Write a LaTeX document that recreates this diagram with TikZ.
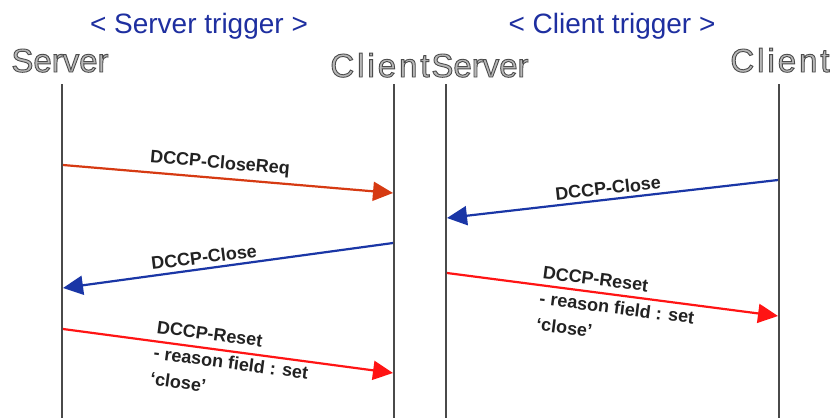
\documentclass[tikz,border=0pt]{standalone}
\usepackage{fontspec}
\setmainfont{Liberation Sans}
\usetikzlibrary{arrows.meta}

\definecolor{titleblue}{HTML}{1E2FA0}
\definecolor{reqorange}{HTML}{D63A12}
\definecolor{closeblue}{HTML}{1A36A6}
\definecolor{resetred}{HTML}{FF1414}
\definecolor{lifegray}{HTML}{4A4A4A}
\definecolor{hdrfill}{HTML}{B8B8B8}
\definecolor{msgtext}{HTML}{222222}

% outlined (stroked + filled) glyphs for the entity names
\newcommand\hollowtext[1]{\special{pdf:literal direct 2 Tr 0.9 w 0.3 G}#1\special{pdf:literal direct 0 Tr}}

\tikzset{
  title/.style={text=titleblue, font=\fontsize{28}{32}\selectfont, inner sep=0, anchor=base},
  entity/.style={text=hdrfill, font=\fontsize{33}{38}\selectfont, inner sep=0, anchor=base},
  lifeline/.style={draw=lifegray, line width=2.6pt},
  msgarrow/.style={line width=2.2pt, -{Triangle[length=20pt,width=19pt]}},
  msglabel/.style={text=msgtext, font=\bfseries\fontsize{18}{26}\selectfont, inner sep=0, align=left},
}

\begin{document}
\begin{tikzpicture}[x=1pt, y=-1pt]
  \useasboundingbox (0,0) rectangle (833,418);
  \fill[white] (0,0) rectangle (833,418);

  % section titles
  \node[title] (tServer) at (199,33) {< Server trigger >};
  \node[title] (tClient) at (612,33) {< Client trigger >};

  % entity names
  \node[entity] (nSL) at (60,72) {\hollowtext{Server}};
  \node[entity] (nCL) at (380,77) {\hollowtext{\addfontfeature{LetterSpace=9}Client}};
  \node[entity] (nSR) at (480,77) {\hollowtext{Server}};
  \node[entity] (nCR) at (780,72) {\hollowtext{\addfontfeature{LetterSpace=9}Client}};

  % lifelines
  \coordinate (SLtop) at (62,84);  \coordinate (SLbot) at (62,418);
  \coordinate (CLtop) at (394,84); \coordinate (CLbot) at (394,418);
  \coordinate (SRtop) at (446,84); \coordinate (SRbot) at (446,418);
  \coordinate (CRtop) at (779,84); \coordinate (CRbot) at (779,418);
  \draw[lifeline] (SLtop) -- (SLbot);
  \draw[lifeline] (CLtop) -- (CLbot);
  \draw[lifeline] (SRtop) -- (SRbot);
  \draw[lifeline] (CRtop) -- (CRbot);

  % message end points on the lifelines
  \coordinate (m1s) at (63,165);  \coordinate (m1e) at (393,193);
  \coordinate (m2s) at (393,243); \coordinate (m2e) at (63,288);
  \coordinate (m3s) at (63,329);  \coordinate (m3e) at (393,373);
  \coordinate (m4s) at (778,180); \coordinate (m4e) at (447,218);
  \coordinate (m5s) at (447,273); \coordinate (m5e) at (778,316);

  % server-triggered close
  \draw[msgarrow, draw=reqorange, fill=reqorange] (m1s) -- (m1e);
  \draw[msgarrow, draw=closeblue, fill=closeblue] (m2s) -- (m2e);
  \draw[msgarrow, draw=resetred, fill=resetred] (m3s) -- (m3e);
  \node[msglabel, rotate=-4.9] (l1) at (220,164) {DCCP-CloseReq};
  \node[msglabel, rotate=7.1] (l2) at (204,257) {DCCP-Close};
  \node[msglabel, rotate=-7.5] (l3) at (231,363)
    {DCCP-Reset\\- reason field : set\\‘close’};

  % client-triggered close
  \draw[msgarrow, draw=closeblue, fill=closeblue] (m4s) -- (m4e);
  \draw[msgarrow, draw=resetred, fill=resetred] (m5s) -- (m5e);
  \node[msglabel, rotate=6.2] (l4) at (608,188) {DCCP-Close};
  \node[msglabel, rotate=-7.2] (l5) at (617,308)
    {DCCP-Reset\\- reason field : set\\‘close’};
\end{tikzpicture}
\end{document}
